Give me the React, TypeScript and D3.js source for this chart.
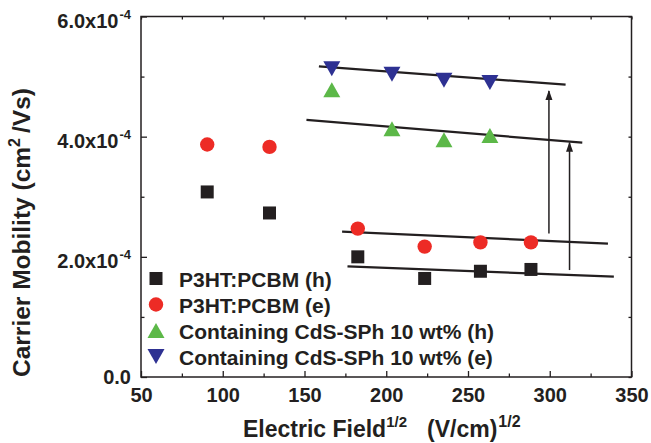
import React, { useEffect, useRef } from 'react';
import * as d3 from 'd3';

// Data (x: sqrt(E) in (V/cm)^1/2, y: mobility in cm^2/Vs)
const fieldPcbm = [90.5, 128.6, 182.6, 223.5, 257.6, 288.5];
const holePcbm = [3.08e-4, 2.73e-4, 2.0e-4, 1.64e-4, 1.76e-4, 1.79e-4];
const electronPcbm = [3.87e-4, 3.83e-4, 2.47e-4, 2.17e-4, 2.24e-4, 2.24e-4];
const fieldCds = [166.7, 203.5, 235.3, 263.4];
const holeCds = [4.78e-4, 4.13e-4, 3.95e-4, 4.02e-4];
const electronCds = [5.13e-4, 5.04e-4, 4.94e-4, 4.9e-4];

// fitted guide lines: [x0, y0, x1, y1]
const fitLines = [
  [158.8, 5.17e-4, 309.7, 4.865e-4],
  [151.2, 4.28e-4, 319.9, 3.9e-4],
  [173.0, 2.42e-4, 335.6, 2.22e-4],
  [176.3, 1.84e-4, 339.2, 1.67e-4],
];
// arrows: [x, yFrom, yTo]
const arrows = [
  [299.5, 2.39e-4, 4.76e-4],
  [312.1, 1.78e-4, 3.9e-4],
];

const xMajor = [50, 100, 150, 200, 250, 300, 350];
const xMinor = [75, 125, 175, 225, 275, 325];
const yMajor = [0, 2e-4, 4e-4, 6e-4];
const yMinor = [1e-4, 3e-4, 5e-4];
const yTickText = ['0.0', '2.0x10', '4.0x10', '6.0x10'];
const yTickExp = ['', '-4', '-4', '-4'];

const seriesNames = [
  'P3HT:PCBM (h)',
  'P3HT:PCBM (e)',
  'Containing CdS-SPh 10 wt% (h)',
  'Containing CdS-SPh 10 wt% (e)',
];
const seriesColors = ['#231f20', '#ed2b25', '#5cb848', '#2e3192'];
const seriesShapes = ['square', 'circle', 'up', 'down'];

const FONT = "Arial, 'Liberation Sans', Helvetica, sans-serif";
const INK = '#231f20';

function shapePath(shape: string) {
  if (shape === 'square') return 'M-6.5,-6.5H6.5V6.5H-6.5Z';
  if (shape === 'circle') return d3.symbol(d3.symbolCircle, Math.PI * 7.2 * 7.2)() as string;
  if (shape === 'up') return 'M0,-7.5L8.5,7.5L-8.5,7.5Z';
  return 'M0,7.5L8.5,-7.5L-8.5,-7.5Z';
}

const App = () => {
  const svgRef = useRef<SVGSVGElement>(null);

  useEffect(() => {
    const width = 651;
    const height = 443;
    const left = 141, right = 631.5, top = 16.5, bottom = 377;

    d3.select(svgRef.current).selectAll('*').remove();
    const svg = d3.select(svgRef.current)
      .attr('width', width)
      .attr('height', height)
      .style('font-family', FONT);

    const x = d3.scaleLinear().domain([50, 350]).range([left, right]);
    const y = d3.scaleLinear().domain([0, 6e-4]).range([bottom, top]);

    // arrow head
    svg.append('defs').append('marker')
      .attr('id', 'head')
      .attr('viewBox', '0 0 10 10')
      .attr('refX', 9)
      .attr('refY', 5)
      .attr('markerWidth', 10)
      .attr('markerHeight', 10)
      .attr('markerUnits', 'userSpaceOnUse')
      .attr('orient', 'auto')
      .append('path')
      .attr('d', 'M0,1.5L10,5L0,8.5Z')
      .attr('fill', INK);

    const tickStyle = (g: any) => {
      g.select('.domain').remove();
      g.selectAll('line').attr('stroke', INK).attr('stroke-width', 1.3);
    };

    // bottom axis
    svg.append('g')
      .attr('transform', `translate(0,${bottom})`)
      .call(d3.axisBottom(x).tickValues(xMajor).tickSize(-6).tickPadding(11).tickFormat(d3.format('d')))
      .call(tickStyle)
      .call((g: any) => g.selectAll('text')
        .attr('fill', INK)
        .attr('font-size', 20)
        .attr('font-weight', 'bold')
        .attr('font-family', FONT));
    svg.append('g')
      .attr('transform', `translate(0,${bottom})`)
      .call(d3.axisBottom(x).tickValues(xMinor).tickSize(-3.5).tickFormat(() => ''))
      .call(tickStyle);

    // top axis
    svg.append('g')
      .attr('transform', `translate(0,${top})`)
      .call(d3.axisTop(x).tickValues([...xMajor, ...xMinor]).tickSize(-3).tickFormat(() => ''))
      .call(tickStyle);

    // left axis
    svg.append('g')
      .attr('transform', `translate(${left},0)`)
      .call(d3.axisLeft(y).tickValues(yMajor).tickSize(-6).tickFormat(() => ''))
      .call(tickStyle);
    svg.append('g')
      .attr('transform', `translate(${left},0)`)
      .call(d3.axisLeft(y).tickValues(yMinor).tickSize(-3.5).tickFormat(() => ''))
      .call(tickStyle);

    // right axis
    svg.append('g')
      .attr('transform', `translate(${right},0)`)
      .call(d3.axisRight(y).tickValues([...yMajor, ...yMinor]).tickSize(-3).tickFormat(() => ''))
      .call(tickStyle);

    // y tick labels with superscript exponent
    yMajor.forEach((v, i) => {
      const t = svg.append('text')
        .attr('x', 131)
        .attr('y', y(v) + (yTickExp[i] ? 11.5 : 6.5))
        .attr('text-anchor', 'end')
        .attr('font-size', 20)
        .attr('font-weight', 'bold')
        .attr('fill', INK);
      t.append('tspan').text(yTickText[i]);
      if (yTickExp[i]) {
        t.append('tspan')
          .attr('font-size', 13)
          .attr('dy', -9)
          .attr('dx', 1)
          .text(yTickExp[i]);
      }
    });

    // frame
    svg.append('rect')
      .attr('x', left)
      .attr('y', top)
      .attr('width', right - left)
      .attr('height', bottom - top)
      .attr('fill', 'none')
      .attr('stroke', INK)
      .attr('stroke-width', 1.5);

    // fit lines
    svg.append('g')
      .selectAll('line')
      .data(fitLines)
      .join('line')
      .attr('x1', d => x(d[0]))
      .attr('y1', d => y(d[1]))
      .attr('x2', d => x(d[2]))
      .attr('y2', d => y(d[3]))
      .attr('stroke', INK)
      .attr('stroke-width', 2.2);

    // arrows
    svg.append('g')
      .selectAll('line')
      .data(arrows)
      .join('line')
      .attr('x1', d => x(d[0]))
      .attr('y1', d => y(d[1]))
      .attr('x2', d => x(d[0]))
      .attr('y2', d => y(d[2]))
      .attr('stroke', INK)
      .attr('stroke-width', 1.5)
      .attr('marker-end', 'url(#head)');

    // scatter series
    const series = [
      { xs: fieldPcbm, ys: holePcbm },
      { xs: fieldPcbm, ys: electronPcbm },
      { xs: fieldCds, ys: holeCds },
      { xs: fieldCds, ys: electronCds },
    ];
    series.forEach((s, i) => {
      svg.append('g')
        .selectAll('path')
        .data(s.xs.map((xv, j) => [xv, s.ys[j]]))
        .join('path')
        .attr('transform', d => `translate(${x(d[0])},${y(d[1])})`)
        .attr('d', shapePath(seriesShapes[i]))
        .attr('fill', seriesColors[i]);
    });

    // legend
    const legend = svg.append('g');
    seriesNames.forEach((name, i) => {
      const cy = 278.5 + i * 26;
      legend.append('path')
        .attr('transform', `translate(156,${cy})`)
        .attr('d', shapePath(seriesShapes[i]))
        .attr('fill', seriesColors[i]);
      legend.append('text')
        .attr('x', 179)
        .attr('y', cy + 8)
        .attr('font-size', 21)
        .attr('font-weight', 'bold')
        .attr('fill', INK)
        .text(name);
    });

    // x axis title
    const xt = svg.append('text')
      .attr('x', 243)
      .attr('y', 437)
      .attr('font-size', 23)
      .attr('font-weight', 'bold')
      .attr('fill', INK);
    xt.append('tspan').text('Electric Field');
    xt.append('tspan').attr('font-size', 15).attr('dy', -10).text('1/2');
    xt.append('tspan').attr('dy', 10).attr('dx', 20).text('(V/cm)');
    xt.append('tspan').attr('font-size', 16).attr('dy', -10).attr('dx', 1).text('1/2');

    // y axis title
    const yt = svg.append('text')
      .attr('transform', 'translate(30,377) rotate(-90)')
      .attr('font-size', 24.5)
      .attr('font-weight', 'bold')
      .attr('fill', INK);
    yt.append('tspan').text('Carrier Mobility (cm');
    yt.append('tspan').attr('font-size', 16).attr('dy', -10).text('2');
    yt.append('tspan').attr('dy', 10).attr('dx', 5).text('/Vs)');
  }, []);

  return (
    <svg ref={svgRef} style={{ position: 'absolute', left: 0, top: 0, background: '#fff' }}></svg>
  );
};

export default App;
